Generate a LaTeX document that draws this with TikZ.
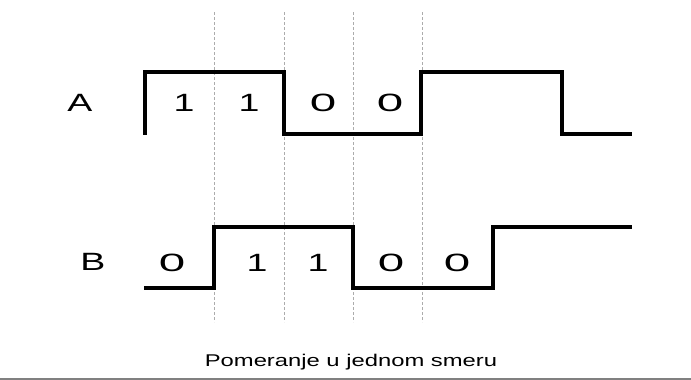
\documentclass[tikz,border=0pt]{standalone}
\usepackage{fontspec}
\setmainfont{Liberation Sans}
\newfontfamily\widefont[FakeStretch=1.5]{Liberation Sans}
\newfontfamily\capfont[FakeStretch=1.4]{Liberation Sans}
\newfontfamily\zerofont[FakeStretch=1.9]{Liberation Sans}
\begin{document}
\begin{tikzpicture}[x=1pt,y=-1pt,
  sig/.style={line width=3.2pt, line join=miter, line cap=rect},
  gridline/.style={gray!65, dash pattern=on 3pt off 2pt, line width=1pt},
  lbl/.style={inner sep=0pt, font=\widefont\fontsize{25}{25}\selectfont},
  bit/.style={inner sep=0pt, font=\widefont\fontsize{25}{25}\selectfont},
  zbit/.style={inner sep=0pt, font=\zerofont\fontsize{25}{25}\selectfont},
  caption/.style={inner sep=0pt, anchor=base, font=\capfont\fontsize{17}{17}\selectfont}]
\useasboundingbox (0,0) rectangle (691,380);
\fill[white] (0,0) rectangle (691,380);
% dashed separators
\foreach \x/\n in {214/g1,284/g2,353/g3,422/g4}{
  \coordinate (\n t) at (\x,12);
  \coordinate (\n b) at (\x,322);
  \draw[gridline] (\n t) -- (\n b);
}
% signal A
\coordinate (a0) at (145,133);
\coordinate (a1) at (145,72);
\coordinate (a2) at (284,72);
\coordinate (a3) at (284,134);
\coordinate (a4) at (421,134);
\coordinate (a5) at (421,72);
\coordinate (a6) at (562,72);
\coordinate (a7) at (562,134);
\coordinate (a8) at (630,134);
\draw[sig] (a0) -- (a1) -- (a2) -- (a3) -- (a4) -- (a5) -- (a6) -- (a7) -- (a8);
% signal B
\coordinate (b0) at (146,288);
\coordinate (b1) at (214,288);
\coordinate (b2) at (214,227);
\coordinate (b3) at (353,227);
\coordinate (b4) at (353,288);
\coordinate (b5) at (493,288);
\coordinate (b6) at (493,227);
\coordinate (b7) at (630,227);
\draw[sig] (b0) -- (b1) -- (b2) -- (b3) -- (b4) -- (b5) -- (b6) -- (b7);
% labels
\node[lbl] (la) at (80,103) {A};
\node[lbl] (lb) at (93,262) {B};
\node[bit] (a1t) at (184,103) {1};
\node[bit] (a2t) at (249,103) {1};
\node[zbit] (a3t) at (323,103) {0};
\node[zbit] (a4t) at (390,103) {0};
\node[zbit] (b1t) at (172,263) {0};
\node[bit] (b2t) at (257,263) {1};
\node[bit] (b3t) at (318,263) {1};
\node[zbit] (b4t) at (391,263) {0};
\node[zbit] (b5t) at (457,263) {0};
\node[caption] (cap) at (351,366) {Pomeranje u jednom smeru};
% bottom rule
\coordinate (r0) at (0,379);
\coordinate (r1) at (691,379);
\draw[gray, line width=2pt] (r0) -- (r1);
\end{tikzpicture}
\end{document}
